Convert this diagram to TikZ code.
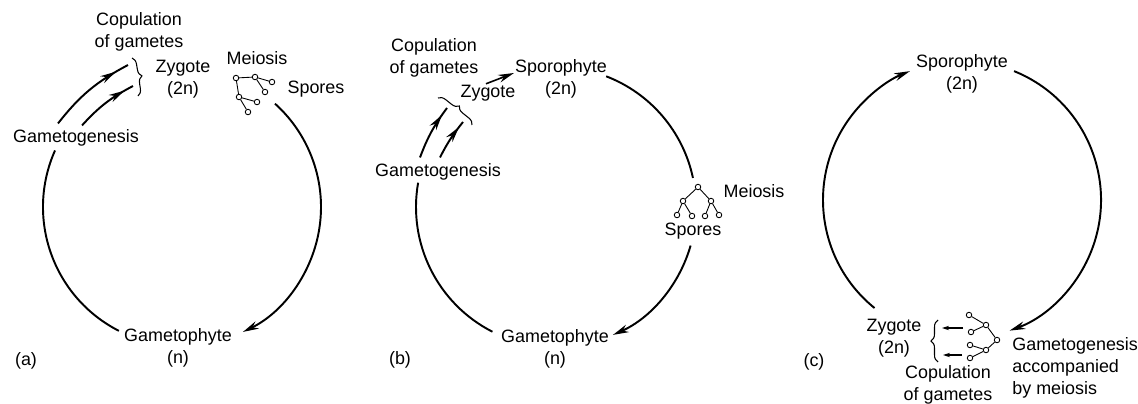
\documentclass[tikz,border=0pt]{standalone}
\usepackage{fontspec}
\setmainfont{Liberation Sans}
\usepackage{tikz}
\usetikzlibrary{arrows.meta,calc,decorations.pathreplacing,decorations.markings}

\begin{document}
\begin{tikzpicture}[x=0.02cm,y=-0.02cm, >={Stealth[length=9pt,width=4.5pt]},
  every node/.style={font=\fontsize{10.2}{12.5}\selectfont},
  cyc/.style={line width=1.1pt},
  cell/.style={circle,draw,line width=0.5pt,inner sep=0pt,minimum size=1.1mm},
  link/.style={line width=0.5pt},
  brc/.style={decorate,decoration={brace,amplitude=4pt},line width=0.6pt},
  midarr/.style={line width=1.1pt,postaction={decorate},decoration={markings,mark=at position 0.85 with {\arrow{>}}}},
  smallarr/.style={line width=0.6pt,-{Stealth[length=4pt,width=2.5pt]}}]
\useasboundingbox (0,0) rectangle (1138,403);
% (a)
\node (copA) at (139,32) [align=center] {Copulation\\of gametes};
\node (zygA) at (183,79) [align=center] {Zygote\\(2n)};
\node (meiA) at (257,58) {Meiosis};
\node (sporesA) at (316,89) {Spores};
\node (gamgenA) at (76,138) {Gametogenesis};
\node (gametoA) at (178,348) [align=center] {Gametophyte\\(n)};
\node (labA) at (26,361) {(a)};
\coordinate (cA) at (182,207);
\draw[cyc] (cA) ++(117:139) arc[start angle=117,end angle=204,radius=139];
\draw[cyc,->] (cA) ++(-48:139) arc[start angle=-48,end angle=64,radius=139];
\draw[brc] (132,58) -- (138,96);
\coordinate (bA1) at (128,65); \coordinate (bA2) at (133,86);
\draw[midarr] ($(gamgenA.north)+(-18,0)$) to[bend left=12] (bA1);
\draw[midarr] ($(gamgenA.north)+(6,2)$) to[bend left=10] (bA2);
\foreach \nm/\px/\py in {mA0/236/78,mA1/255/77,mA2/239/97,sA1/272/82,sA2/265/92,sA3/257/102,sA4/248/112}
  \node[cell] (\nm) at (\px,\py) {};
\draw[link] (mA0)--(mA1) (mA0)--(mA2) (mA1)--(sA1) (mA1)--(sA2) (mA2)--(sA3) (mA2)--(sA4);
% (b)
\node (copB) at (434,58) [align=center] {Copulation\\of gametes};
\node (sporoB) at (561,79) [align=center] {Sporophyte\\(2n)};
\node (zygB) at (488,93) {Zygote};
\node (gamgenB) at (438,172) {Gametogenesis};
\node (meiB) at (754,191) {Meiosis};
\node (sporesB) at (693,231) {Spores};
\node (gametoB) at (555,349) [align=center] {Gametophyte\\(n)};
\node (labB) at (400,360) {(b)};
\coordinate (cB) at (556,207);
\draw[cyc] (cB) ++(117:140) arc[start angle=117,end angle=190,radius=140];
\draw[cyc] (cB) ++(-69:140) arc[start angle=-69,end angle=-12,radius=140];
\draw[cyc,->] (cB) ++(16:140) arc[start angle=16,end angle=66,radius=140];
\draw[brc] (438,98) -- (472,125);
\coordinate (bB1) at (447,108); \coordinate (bB2) at (463,122);
\draw[midarr] ($(gamgenB.north)+(-18,0)$) to[bend left=8] (bB1);
\draw[midarr] ($(gamgenB.north)+(2,0)$) to[bend left=6] (bB2);
\draw[line width=0.9pt,->] ($(zygB.north)+(-2,5)$) -- ($(sporoB.west)+(5,-6)$);
\foreach \nm/\px/\py in {mB0/698/187,mB1/683/201,mB2/711/201,sB1/677/215,sB2/692/216,sB3/705/216,sB4/719/215}
  \node[cell] (\nm) at (\px,\py) {};
\draw[link] (mB0)--(mB1) (mB0)--(mB2) (mB1)--(sB1) (mB1)--(sB2) (mB2)--(sB3) (mB2)--(sB4);
% (c)
\node (sporoC) at (962,74) [align=center] {Sporophyte\\(2n)};
\node (zygC) at (894,338) [align=center] {Zygote\\(2n)};
\node (copC) at (948,385) [align=center] {Copulation\\of gametes};
\node (gamgenC) at (1012,368) [anchor=west,align=left,inner sep=0pt] {Gametogenesis\\accompanied\\by meiosis};
\node (labC) at (814,362) {(c)};
\coordinate (cC) at (962,200);
\draw[cyc,->] (cC) ++(129:139) arc[start angle=129,end angle=248,radius=139];
\draw[cyc,->] (cC) ++(-68:139) arc[start angle=-68,end angle=70,radius=139];
\draw[brc] (938,362) -- (938,320);
\coordinate (aC1) at (942,328); \coordinate (aC2) at (943,355);
\coordinate (qC1) at (963,328); \coordinate (qC2) at (962,355);
\draw[smallarr] (qC1) -- (aC1);
\draw[smallarr] (qC2) -- (aC2);
\foreach \nm/\px/\py in {mC0/997/340,mC1/986/325,mC2/986/350,sC1/969/315,sC2/971/332,sC3/970/345,sC4/970/358}
  \node[cell] (\nm) at (\px,\py) {};
\draw[link] (mC0)--(mC1) (mC0)--(mC2) (mC1)--(sC1) (mC1)--(sC2) (mC2)--(sC3) (mC2)--(sC4);
\end{tikzpicture}
\end{document}
